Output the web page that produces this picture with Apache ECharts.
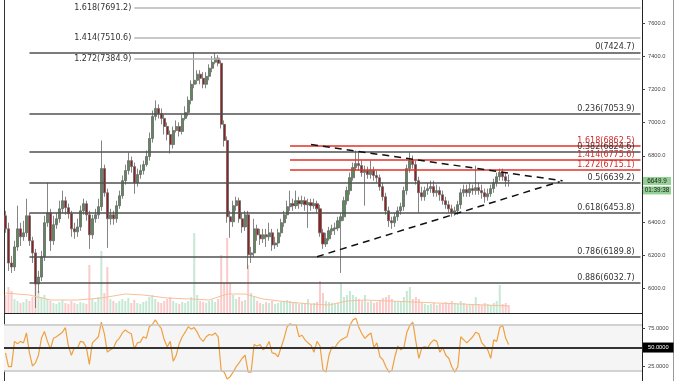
<!DOCTYPE html>
<html><head><meta charset="utf-8">
<script src="https://cdn.jsdelivr.net/npm/echarts@6/dist/echarts.min.js"></script>
<style>html,body{margin:0;padding:0;background:#fff}#c{width:678px;height:381px}</style>
</head><body><div id="c"></div>
<script>
// ---- data ----
const ohlc = [
[6438,6359,6335,6468],[6359,6153,6105,6396],[6153,6129,6093,6196],[6129,6250,6105,6287],[6250,6359,6226,6499],
[6359,6311,6256,6396],[6311,6335,6287,6408],[6335,6438,6311,6541],[6438,6287,6256,6456],[6287,6214,6153,6311],
[6214,6026,5881,6238],[6026,6068,5971,6105],[6068,6190,6044,6226],[6190,6396,6165,6438],[6396,6456,6371,6638],
[6456,6287,6226,6480],[6287,6384,6262,6438],[6384,6420,6359,6456],[6420,6480,6396,6529],[6480,6529,6456,6590],
[6529,6487,6444,6553],[6487,6450,6420,6511],[6450,6359,6311,6468],[6359,6341,6299,6396],[6341,6371,6311,6420],
[6371,6468,6347,6499],[6468,6511,6444,6541],[6511,6444,6408,6529],[6444,6323,6238,6468],[6323,6420,6299,6444],
[6420,6444,6396,6480],[6444,6493,6420,6541],[6493,6723,6468,6893],[6723,6577,6553,6747],[6577,6420,6244,6602],
[6420,6444,6384,6480],[6444,6420,6384,6468],[6420,6499,6396,6529],[6499,6559,6480,6590],[6559,6650,6541,6681],
[6650,6711,6626,6747],[6711,6771,6687,6820],[6771,6735,6699,6796],[6735,6638,6571,6759],[6638,6687,6614,6723],
[6687,6711,6662,6747],[6711,6747,6687,6771],[6747,6796,6735,6832],[6796,6905,6771,6941],[6905,7038,6880,7074],
[7038,7086,7014,7135],[7086,7056,7026,7111],[7056,7026,6990,7086],[7026,6977,6929,7050],[6977,6929,6893,7002],
[6929,6868,6814,6953],[6868,6953,6844,6977],[6953,6977,6941,7014],[6977,6947,6917,7002],[6947,7026,6929,7050],
[7026,7062,7014,7099],[7062,7135,7038,7159],[7135,7232,7111,7256],[7232,7256,7208,7426],[7256,7293,7232,7317],
[7293,7268,7232,7317],[7268,7232,7208,7305],[7232,7280,7208,7305],[7280,7329,7256,7353],[7329,7365,7305,7402],
[7365,7390,7353,7420],[7390,7359,7341,7408],[7359,6990,6965,7377],[6990,6893,6856,7014],[6893,6432,6396,6917],
[6432,6402,6305,6468],[6402,6499,6371,6529],[6499,6529,6468,6553],[6529,6420,6396,6547],[6420,6371,6335,6456],
[6371,6444,6347,6468],[6444,6202,6117,6468],[6202,6214,6153,6250],[6214,6359,6190,6420],[6359,6323,6287,6384],
[6323,6299,6262,6359],[6299,6323,6274,6359],[6323,6311,6250,6359],[6311,6335,6287,6396],[6335,6262,6226,6359],
[6262,6274,6238,6311],[6274,6335,6250,6359],[6335,6396,6311,6420],[6396,6444,6371,6468],[6444,6493,6420,6529],
[6493,6511,6468,6590],[6511,6499,6468,6541],[6499,6529,6480,6590],[6529,6511,6480,6553],[6511,6529,6493,6559],
[6529,6505,6468,6553],[6505,6517,6365,6541],[6517,6499,6468,6541],[6499,6511,6480,6541],[6511,6480,6456,6529],
[6480,6335,6311,6505],[6335,6268,6238,6359],[6268,6299,6250,6335],[6299,6347,6287,6371],[6347,6359,6323,6384],
[6359,6365,6323,6396],[6365,6408,6347,6432],[6408,6432,6093,6456],[6432,6529,6408,6553],[6529,6590,6505,6614],
[6590,6668,6565,6699],[6668,6729,6650,6759],[6729,6753,6711,6832],[6753,6741,6711,6820],[6741,6699,6674,6771],
[6699,6711,6499,6741],[6711,6687,6662,6735],[6687,6711,6662,6771],[6711,6681,6650,6735],[6681,6668,6638,6711],
[6668,6614,6590,6687],[6614,6553,6529,6638],[6553,6468,6444,6577],[6468,6408,6371,6493],[6408,6396,6359,6432],
[6396,6432,6371,6456],[6432,6468,6408,6493],[6468,6493,6444,6517],[6493,6590,6468,6614],[6590,6723,6565,6747],
[6723,6771,6699,6820],[6771,6747,6723,6802],[6747,6650,6626,6771],[6650,6577,6456,6674],[6577,6553,6529,6614],
[6553,6590,6529,6614],[6590,6602,6565,6638],[6602,6614,6577,6650],[6614,6577,6553,6650],[6577,6590,6553,6626],
[6590,6565,6529,6614],[6565,6529,6505,6590],[6529,6505,6480,6553],[6505,6480,6456,6529],[6480,6456,6432,6505],
[6456,6468,6438,6493],[6468,6505,6444,6529],[6505,6577,6480,6602],[6577,6596,6553,6626],[6596,6577,6553,6626],
[6577,6602,6553,6638],[6602,6590,6565,6626],[6590,6608,6565,6741],[6608,6590,6565,6638],[6590,6577,6541,6626],
[6577,6553,6517,6602],[6553,6571,6529,6602],[6571,6602,6553,6626],[6602,6638,6577,6662],[6638,6674,6614,6699],
[6674,6699,6650,6723],[6699,6674,6650,6723],[6674,6650,6614,6699],[6650,6649.9,6614,6687]
];
const volume = [
18,26,22,14,12,10,11,14,12,16, 38,22,16,18,14,12,10,9,11,13, 10,9,12,10,9,11,10,9,48,14,
11,16,62,20,46,14,12,10,12,14, 12,15,10,13,10,9,11,12,16,18, 14,11,10,12,14,16,12,10,9,11,
10,12,16,80,18,12,11,10,12,13, 11,14,58,30,75,30,18,14,16,12, 13,48,20,16,12,10,9,11,10,12,
9,10,11,12,13,12,10,11,9,10, 9,14,9,10,11,32,20,12,11,10, 9,10,30,16,18,22,18,16,14,12,
18,11,12,10,11,13,15,16,18,14, 12,11,12,16,22,26,14,16,14,10, 9,8,9,10,8,9,10,11,10,12,
10,9,12,10,8,9,8,16,9,8, 10,9,8,10,12,28,9,10,8
];
const volumeMA = [[0,20],[8,18],[15,13],[24,13],[32,15],[40,19],[46,18],[54,15],[62,14],[68,13],[74,19],[80,19],
[86,14],[94,11],[102,9],[108,8],[114,12],[120,13],[128,12],[136,11],[144,10],[152,9],[160,8],[168,7]];
const rsi = [
43,25,25,58,55,58,56,69,43,26, 30,40,62,71,58,48,62,64,67,70, 76,52,40,50,49,58,57,50,28,56,
60,64,83,68,44,47,49,58,62,69, 73,70,68,48,56,57,64,62,77,80, 86,80,75,60,51,58,32,40,55,64,
70,77,74,76,70,62,58,64,67,66, 69,64,20,18,9,12,18,25,30,36, 40,18,18,54,52,54,47,50,58,43,
42,38,50,62,77,81,79,80,64,66, 60,56,53,44,58,52,21,18,40,51, 50,56,60,62,64,79,86,88,76,68,
62,66,69,50,56,38,34,25,18,20, 38,52,47,50,70,79,83,58,36,50, 51,50,56,60,58,44,50,40,36,25,
18,25,64,60,56,60,64,70,68,56, 52,47,36,60,58,76,79,62,54
];
const priceTicks = [6000,6200,6400,6600,6800,7000,7200,7400,7600];
const rsiTicks = [25,50,75];
const rsiBands = [20,50,80];
const fibRetrRatios = ['0','0.236','0.382','0.5','0.618','0.786','0.886'];
const fibRetrValues = [7424.7,7053.9,6824.6,6639.2,6453.8,6189.8,6032.7];
const fibExtRatios = ['1.618','1.414','1.272'];
const fibExtValues = [7691.2,7510.6,7384.9];
const fibRedRatios = ['1.618','1.414','1.272'];
const fibRedValues = [6862.5,6775.6,6715.1];
const upperTrend = [[102,6868],[186,6649]];
const lowerTrend = [[104,6191],[185,6644]];
const lastPrice = 6649.9;
const countdown = '01:39:38';
const N = 213;
const categories = Array.from({length:N},(_,i)=>String(i));

// ---- drawing ----
const RETR_START = 8, EXT_START = 43, RED_START = 95, END = 212;
const FONT = 'DejaVu Sans';
function seg(x0,v0,x1,v1,lineStyle,label){
  return [{coord:[x0,v0],lineStyle:lineStyle,label:label},{coord:[x1,v1]}];
}
const fmt = (r,v)=> r+'('+v.toFixed(1)+')';
const marks = [];
fibExtRatios.forEach((r,i)=>marks.push(seg(EXT_START,fibExtValues[i],END,fibExtValues[i],
  {color:'#b4b4b4',width:1.5,type:'solid'},
  {show:true,position:'start',distance:3,padding:[0,0,9,0],color:'#333',fontSize:8,fontFamily:FONT,formatter:fmt(r,fibExtValues[i])})));
fibRetrRatios.forEach((r,i)=>marks.push(seg(RETR_START,fibRetrValues[i],END,fibRetrValues[i],
  {color:'#505050',width:1.6,type:'solid'},
  {show:true,position:'insideEndTop',distance:[6,1],color:'#333',fontSize:8,fontFamily:FONT,formatter:fmt(r,fibRetrValues[i])})));
fibRedRatios.forEach((r,i)=>marks.push(seg(RED_START,fibRedValues[i],END,fibRedValues[i],
  {color:'#e0302a',width:1.6,type:'solid'},
  {show:true,position:'insideEndTop',distance:[6,1],color:'#d42a2a',fontSize:8,fontFamily:FONT,formatter:fmt(r,fibRedValues[i])})));
[upperTrend,lowerTrend].forEach(t=>marks.push(seg(t[0][0],t[0][1],t[1][0],t[1][1],
  {color:'#111',width:1.5,type:[7,5]},{show:false})));
const tagStyle = {backgroundColor:'#93d093',color:'#1a1a1a',fontSize:6.3,fontFamily:'Liberation Sans',width:28,height:8,lineHeight:9.5,align:'center'};
marks.push({yAxis:lastPrice,lineStyle:{color:'transparent',width:1,type:'solid'},
  label:{show:true,position:'end',distance:1,padding:[10,0,0,0],
    formatter:'{a|'+lastPrice.toFixed(1)+'}\n{b|'+countdown+'}',
    rich:{a:tagStyle,b:tagStyle}}});

const chart = echarts.init(document.getElementById('c'));
const grids = [{left:4,right:36,top:0,height:313},{left:4,right:36,top:213,height:100},{left:4,right:36,top:313,height:68}];
chart.setOption({
  animation:false,
  backgroundColor:'#fff',
  grid:grids,
  xAxis:[0,1,2].map(g=>({type:'category',gridIndex:g,data:categories,boundaryGap:true,show:false})),
  yAxis:[
    {gridIndex:0,position:'right',min:5851,max:7741,scale:true,splitLine:{show:false},
     axisLine:{show:true,lineStyle:{color:'#222',width:1}},
     axisTick:{show:true,length:3,customValues:priceTicks,lineStyle:{color:'#444'}},
     axisLabel:{customValues:priceTicks,formatter:v=>v.toFixed(1),fontSize:5.7,color:'#444',margin:6,fontFamily:'Liberation Sans'}},
    {gridIndex:1,min:0,max:100,show:false},
    {gridIndex:2,position:'right',min:6.4,max:95,splitLine:{show:false},
     axisLine:{show:true,lineStyle:{color:'#222',width:1}},
     axisTick:{show:true,length:3,customValues:[25,75],lineStyle:{color:'#444'}},
     axisLabel:{customValues:rsiTicks,margin:1,
       formatter:v=> v===50?'{k|'+v.toFixed(4)+'}':'{n|'+v.toFixed(4)+'}',
       rich:{k:{backgroundColor:'#000',color:'#fff',fontSize:5.7,fontFamily:'Liberation Sans',padding:[2,5,2,5]},
             n:{color:'#444',fontSize:5.7,fontFamily:'Liberation Sans',padding:[0,0,0,5]}}}}
  ],
  series:[
    {type:'bar',xAxisIndex:1,yAxisIndex:1,data:volume,barWidth:2,silent:true,
     itemStyle:{color:p=> ohlc[p.dataIndex][1]>=ohlc[p.dataIndex][0]?'rgba(130,205,160,0.45)':'rgba(242,130,130,0.42)'}},
    {type:'line',xAxisIndex:1,yAxisIndex:1,data:volumeMA,symbol:'none',silent:true,lineStyle:{color:'#f6c09a',width:1}},
    {type:'candlestick',xAxisIndex:0,yAxisIndex:0,data:ohlc,barWidth:2.6,
     itemStyle:{color:'#5a8a5a',color0:'#9a1c1c',borderColor:'#666',borderColor0:'#666',borderWidth:0.8},
     markLine:{symbol:['none','none'],silent:true,animation:false,data:marks}},
    {type:'line',xAxisIndex:2,yAxisIndex:2,data:rsi,symbol:'none',silent:true,
     lineStyle:{color:'#f0a040',width:1.2},
     markArea:{silent:true,itemStyle:{color:'#f5f5f5'},data:[[{yAxis:rsiBands[0]},{yAxis:rsiBands[2]}]]},
     markLine:{symbol:['none','none'],silent:true,label:{show:false},
       data:[{yAxis:rsiBands[0],lineStyle:{color:'#c4c4c4',width:1.5,type:'solid'}},
             {yAxis:rsiBands[2],lineStyle:{color:'#c4c4c4',width:1.5,type:'solid'}},
             {yAxis:rsiBands[1],lineStyle:{color:'#333',width:2,type:'solid'}}]}}
  ],
  graphic:[
    {type:'line',shape:{x1:4.5,y1:0,x2:4.5,y2:381},style:{stroke:'#333',lineWidth:1},silent:true},
    {type:'line',shape:{x1:673.5,y1:0,x2:673.5,y2:381},style:{stroke:'#999',lineWidth:1},silent:true},
    {type:'line',shape:{x1:4,y1:313.5,x2:642,y2:313.5},style:{stroke:'#222',lineWidth:1.2},silent:true}
  ]
});
</script></body></html>
